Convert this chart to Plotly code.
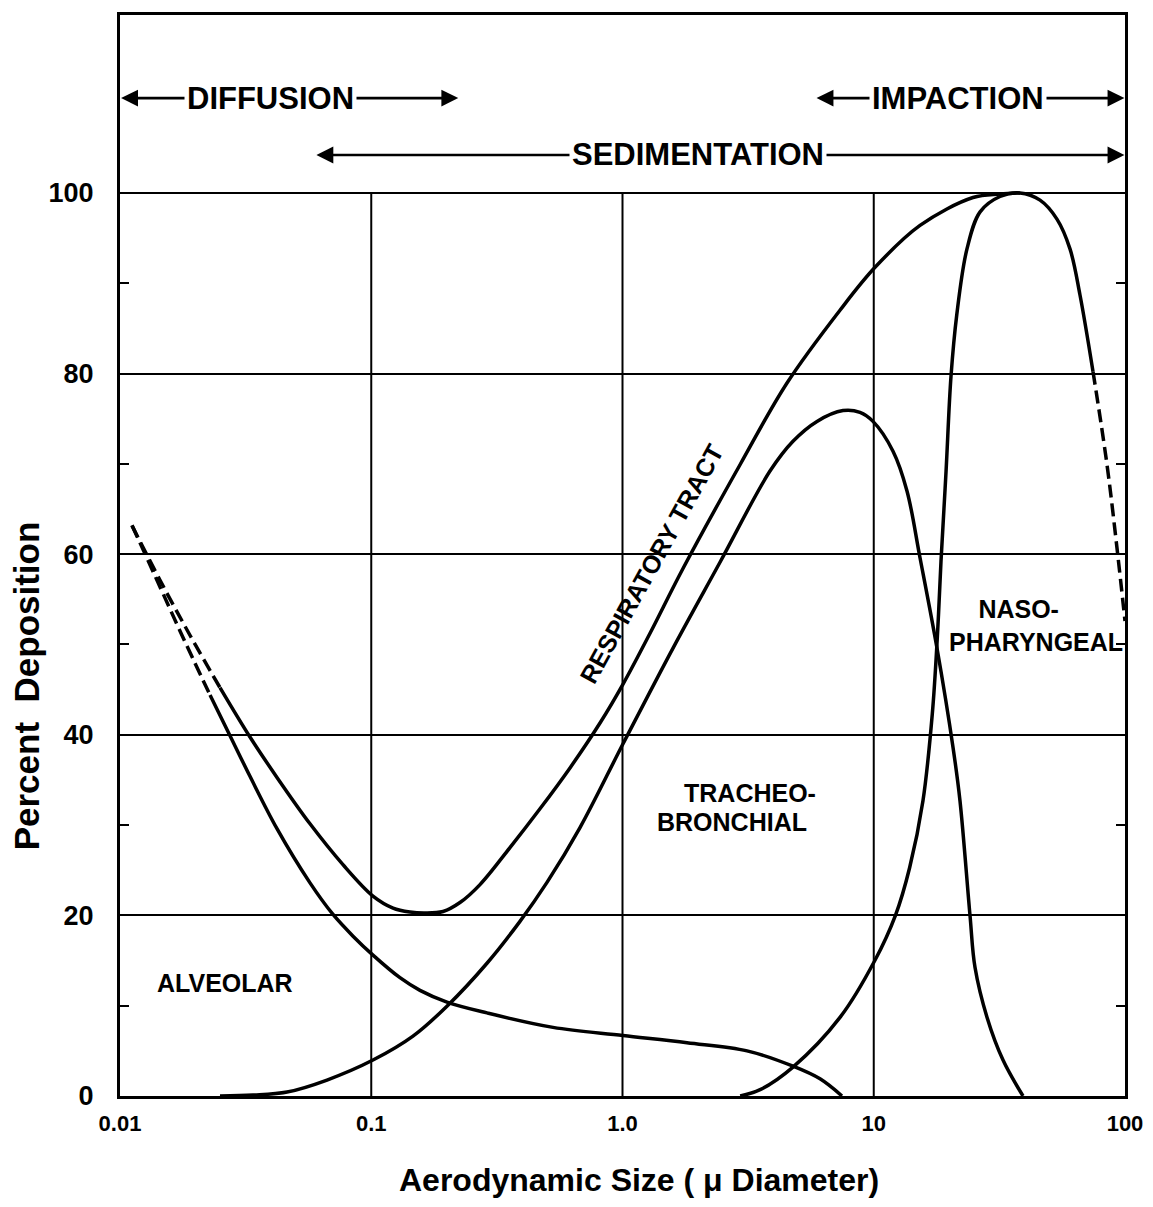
import math
import plotly.graph_objects as go

# ---------------- data ----------------
# Total respiratory tract deposition
resp_dash_x = [0.01116, 0.01442, 0.01899, 0.025]
resp_dash_y = [63.16, 57.13, 51.02, 45.22]
resp_x = [0.025, 0.03291, 0.04215, 0.05705, 0.07717, 0.1016, 0.1221, 0.1426,
          0.1636, 0.1931, 0.2255, 0.2709, 0.3565, 0.4694, 0.618, 0.8137, 1.005,
          1.287, 1.741, 2.936, 4.516, 7.338, 10.12, 15.28, 24.83, 31.8, 38.19]
resp_y = [45.22, 39.75, 35.28, 30.14, 25.62, 22.14, 20.81, 20.37,
          20.26, 20.43, 21.42, 23.41, 27.5, 31.8, 36.33, 41.3, 45.61,
          51.24, 58.41, 69.9, 78.95, 87.01, 91.76, 96.4, 99.49, 99.88, 100.0]

# Alveolar deposition
alv_dash_x = [0.01116, 0.01378, 0.01733, 0.02282]
alv_dash_y = [63.2, 57.6, 51.5, 44.4]
alv_x = [0.02282, 0.02741, 0.03291, 0.04215, 0.05705, 0.07045, 0.08462, 0.1016,
         0.1301, 0.1563, 0.2001, 0.2888, 0.529, 1.005, 1.806, 3.13, 4.771,
         6.111, 7.474]
alv_y = [44.4, 39.9, 35.4, 29.6, 23.6, 20.1, 17.7, 15.6,
         13.1, 11.7, 10.4, 9.2, 7.6, 6.7, 5.9, 5.0, 3.3,
         1.9, 0.0]

# Tracheobronchial deposition
tb_x = [0.025, 0.03384, 0.04621, 0.06667, 0.1016, 0.1466, 0.2001, 0.2888,
        0.3908, 0.5006, 0.6774, 1.005, 1.589, 2.444, 3.864, 4.771, 5.944,
        7.543, 8.816, 9.931, 11.93, 13.56, 15.28, 17.85, 20.68, 22.04, 24.16,
        25.29, 28.23, 32.69, 39.26]
tb_y = [0.0, 0.1, 0.44, 1.77, 3.98, 6.63, 9.94, 14.7,
        19.34, 23.65, 29.72, 39.0, 49.6, 59.1, 69.2, 72.5, 74.7,
        75.9, 75.7, 74.7, 71.4, 67.0, 59.6, 49.6, 38.6, 32.7, 20.0,
        14.25, 8.73, 3.98, 0.0]

# Nasopharyngeal deposition
np_x = [2.94, 3.53, 4.77, 7.34, 10.1, 12.2, 13.9, 15.7, 17.1, 17.9, 18.52,
        19.4, 20.3, 21.4, 23.5, 26.5, 31.8, 38.2, 45.9, 53.6, 60.4, 66.2, 74.6]
np_y = [0.0, 0.7, 3.2, 8.7, 15.0, 20.0, 25.3, 32.7, 42.3, 50.7, 59.2,
        69.2, 79.7, 86.5, 93.8, 97.9, 99.6, 100.0, 99.2, 97.1, 93.8, 88.7, 80.2]
np_dash_x = [74.6, 84.8, 92.9, 100.0]
np_dash_y = [80.2, 69.9, 60.7, 52.6]

# Axis ticks
x_tickvals = [0.01, 0.1, 1, 10, 100]
x_ticktext = ["0.01", "0.1", "1.0", "10", "100"]
y_tickvals = [0, 20, 40, 60, 80, 100]
y_minor_vals = [10, 30, 50, 70, 90]
x_grid_vals = [0.1, 1, 10]

# Mechanism bands along the top
proc_names = ["DIFFUSION", "SEDIMENTATION", "IMPACTION"]
proc_left = [0.0101, 0.0605, 5.92]
proc_right = [0.222, 99.5, 99.5]
proc_center = [0.0399, 2.0, 21.6]
proc_level = [110.5, 104.2, 110.5]

# Region labels
reg_text = ["ALVEOLAR", "TRACHEO-", "BRONCHIAL",
            "NASO-&nbsp;&nbsp;&nbsp;&nbsp;&nbsp;<br>PHARYNGEAL", "RESPIRATORY TRACT"]
reg_x = [0.0262, 3.21, 2.73, 44.3, 1.31]
reg_y = [12.5, 33.5, 30.3, 52.07, 59.0]
reg_angle = [0, 0, 0, 0, -61]

# ---------------- figure ----------------
FONT = "Liberation Sans"
LW = 3.5
DASH = "13px,6px"

fig = go.Figure()

# vertical grid lines stopping at 100
gx, gy = [], []
for v in x_grid_vals:
    gx += [v, v, None]
    gy += [0, 100, None]
fig.add_trace(go.Scatter(x=gx, y=gy, mode="lines",
                         line=dict(color="black", width=2), hoverinfo="skip"))

def curve(x, y, dash=None):
    fig.add_trace(go.Scatter(x=x, y=y, mode="lines",
                             line=dict(color="black", width=LW, shape="spline",
                                       smoothing=1.0, dash=dash)))

curve(resp_dash_x, resp_dash_y, DASH)
curve(resp_x, resp_y)
curve(alv_dash_x, alv_dash_y, DASH)
curve(alv_x, alv_y)
curve(tb_x, tb_y)
curve(np_x, np_y)
curve(np_dash_x, np_dash_y, DASH)

annotations = []
for name, lo, hi, c, lev in zip(proc_names, proc_left, proc_right, proc_center, proc_level):
    for tip in (lo, hi):
        annotations.append(dict(
            x=math.log10(tip), y=lev, ax=math.log10(c), ay=lev,
            xref="x", yref="y", axref="x", ayref="y", text="",
            showarrow=True, arrowhead=2, arrowsize=1.3, arrowwidth=2.6,
            arrowcolor="black", standoff=0, startstandoff=0))
    annotations.append(dict(
        x=math.log10(c), y=lev, xref="x", yref="y", text="<b>%s</b>" % name,
        showarrow=False, bgcolor="white", borderpad=2,
        font=dict(family=FONT, size=31, color="black")))

for t, x, y, a in zip(reg_text, reg_x, reg_y, reg_angle):
    annotations.append(dict(
        x=math.log10(x), y=y, xref="x", yref="y", text="<b>%s</b>" % t,
        showarrow=False, textangle=a, xanchor="center", yanchor="middle",
        font=dict(family=FONT, size=25, color="black")))

# axis titles
annotations.append(dict(
    x=0.516, y=-0.078, xref="paper", yref="paper",
    xanchor="center", yanchor="middle",
    text="<b>Aerodynamic Size ( μ Diameter)</b>", showarrow=False,
    font=dict(family=FONT, size=32, color="black")))
annotations.append(dict(
    x=-0.0935, y=0.379, xref="paper", yref="paper",
    xanchor="center", yanchor="middle",
    text="<b>Percent  Deposition</b>", showarrow=False, textangle=-90,
    font=dict(family=FONT, size=35, color="black")))

# the page body adds an 8 px margin, so the figure is shrunk by 8 px
fig.update_layout(
    width=1145, height=1199,
    margin=dict(l=112, r=28, t=4, b=111),
    paper_bgcolor="white", plot_bgcolor="white",
    showlegend=False,
    annotations=annotations,
    xaxis=dict(
        type="log", range=[-2, 2],
        tickvals=x_tickvals, ticktext=x_ticktext,
        showgrid=False, zeroline=False,
        showline=True, linecolor="black", linewidth=3, mirror=True,
        ticks="", ticklabelstandoff=6,
        tickfont=dict(family=FONT, size=22, color="black", weight="bold"),
    ),
    yaxis=dict(
        range=[0, 119.7],
        tickvals=y_tickvals,
        showgrid=True, gridcolor="black", gridwidth=2, zeroline=False,
        showline=True, linecolor="black", linewidth=3, mirror="ticks",
        ticks="inside", ticklen=0, tickcolor="black",
        ticklabelstandoff=18,
        tickfont=dict(family=FONT, size=27, color="black", weight="bold"),
        minor=dict(tickvals=y_minor_vals, ticks="inside", ticklen=9,
                   tickwidth=2, tickcolor="black", showgrid=False),
    ),
)

fig.write_html("out.html")
